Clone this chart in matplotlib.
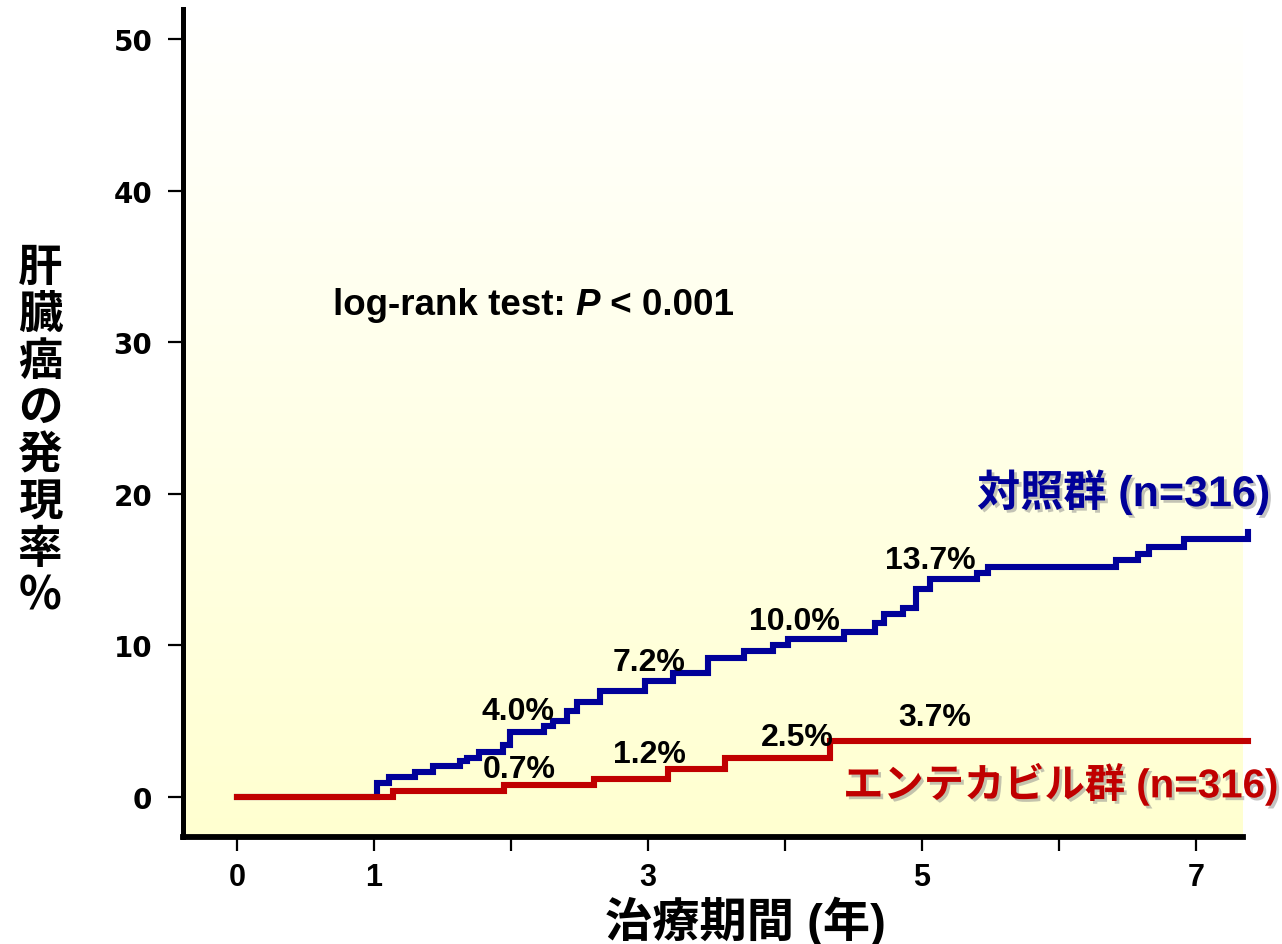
import numpy as np
import matplotlib
matplotlib.use("Agg")
import matplotlib.pyplot as plt
import matplotlib.patheffects as pe
from matplotlib import font_manager
from matplotlib.colors import LinearSegmentedColormap

# 対照群 (control) cumulative incidence, step points
ctrl_t = [0, 1.02, 1.11, 1.30, 1.43, 1.63, 1.68, 1.77, 1.94, 1.99, 2.24, 2.31,
          2.41, 2.48, 2.65, 2.98, 3.18, 3.44, 3.70, 3.91, 4.02, 4.43, 4.66,
          4.72, 4.86, 4.96, 5.06, 5.40, 5.48, 6.42, 6.58, 6.66, 6.91, 7.38]
ctrl_v = [0, 0.9, 1.3, 1.65, 2.05, 2.4, 2.6, 2.95, 3.45, 4.3, 4.7, 5.0,
          5.7, 6.3, 7.0, 7.65, 8.15, 9.2, 9.65, 10.0, 10.45, 10.9, 11.5,
          12.05, 12.5, 13.75, 14.4, 14.8, 15.15, 15.65, 16.05, 16.5, 17.05, 17.5]

# エンテカビル群 (entecavir)
etv_t = [0, 1.14, 1.95, 2.61, 3.15, 3.56, 4.33, 7.38]
etv_v = [0, 0.42, 0.81, 1.19, 1.85, 2.55, 3.71, 3.71]

# percent annotations at years 2, 3, 4, 5
ctrl_notes = ["4.0%", "7.2%", "10.0%", "13.7%"]
etv_notes = ["0.7%", "1.2%", "2.5%", "3.7%"]

xticks = [0, 1, 2, 3, 4, 5, 6, 7]
xticklabels = ["0", "1", "", "3", "", "5", "", "7"]
yticks = [0, 10, 20, 30, 40, 50]

LAT = "Liberation Sans"
CJK = "Noto Sans CJK JP"
try:
    font_manager.findfont("Liberation Sans Narrow", fallback_to_default=False)
    NARROW = "Liberation Sans Narrow"
except Exception:
    NARROW = LAT

plt.rcParams['font.family'] = [LAT, CJK, 'DejaVu Sans']

fig = plt.figure(figsize=(12.82, 9.45), dpi=100)
ax = fig.add_axes([0.1427, 0.1132, 0.8268, 0.8762])

xlim = (-0.394, 7.343)
ylim = (-2.64, 51.98)

# background gradient, white on top to pale yellow at bottom
cmap = LinearSegmentedColormap.from_list("bg", ["#FFFFFF", "#FFFFD0"])
grad = np.linspace(0, 1, 256).reshape(-1, 1)
ax.imshow(grad, cmap=cmap, aspect='auto', extent=[xlim[0], xlim[1], ylim[0], ylim[1]],
          zorder=0, origin='upper')

ax.step(ctrl_t, ctrl_v, where='post', color='#000099', lw=4.4, zorder=3,
        clip_on=False, solid_joinstyle='miter')
ax.step(etv_t, etv_v, where='post', color='#C00000', lw=4.4, zorder=4,
        clip_on=False, solid_joinstyle='miter')

ax.set_xlim(*xlim)
ax.set_ylim(*ylim)

for s in ['top', 'right']:
    ax.spines[s].set_visible(False)
ax.spines['left'].set_linewidth(3.6)
ax.spines['bottom'].set_linewidth(4.2)

ax.set_xticks(xticks)
ax.set_xticklabels(xticklabels, fontfamily=NARROW, fontweight='bold', fontsize=22)
ax.set_yticks(yticks)
ax.set_yticklabels([str(v) for v in yticks], fontfamily='DejaVu Sans',
                   fontweight='bold', fontsize=20)
ax.tick_params(axis='x', length=10, width=1.6, pad=8, direction='out')
ax.tick_params(axis='y', length=11, width=1.6, pad=11, direction='out')

# percentage labels
ctrl_pos = [(2.05, 5.67), (3.01, 8.9), (4.07, 11.6), (5.06, 15.63)]
etv_pos = [(2.06, 1.85), (3.01, 2.84), (4.09, 3.96), (5.09, 5.28)]
for (x, y), s in zip(ctrl_pos, ctrl_notes):
    ax.text(x, y, s, ha='center', va='center', fontsize=23, fontweight='bold',
            color='black', zorder=5)
for (x, y), s in zip(etv_pos, etv_notes):
    ax.text(x, y, s, ha='center', va='center', fontsize=23, fontweight='bold',
            color='black', zorder=5)

# log-rank text with italic P
fig.canvas.draw()
r = fig.canvas.get_renderer()
inv = ax.transData.inverted()
xp = 0.70
for part, style in [("log-rank test: ", 'normal'), ("P", 'italic'), (" < 0.001", 'normal')]:
    tx = ax.text(xp, 32.5, part, ha='left', va='center', fontsize=26.5, fontweight='bold',
                 fontstyle=style, zorder=5)
    bb = tx.get_window_extent(renderer=r)
    xp = inv.transform((bb.x1, 0))[0]

shadow = [pe.withSimplePatchShadow(offset=(2, -2), shadow_rgbFace='#888888', alpha=0.5)]
ax.text(7.54, 20.1, "対照群 (n=316)", ha='right', va='center', fontsize=31,
        fontweight='bold', color='#000099', zorder=5, path_effects=shadow)
ax.text(7.60, 0.86, "エンテカビル群 (n=316)", ha='right', va='center', fontsize=29,
        fontweight='bold', color='#C00000', zorder=5, path_effects=shadow)

# vertical y-axis label, one character per line
ylab = "肝臓癌の発現率%"
y0 = 1 - 268 / 945
step = 47 / 945
for i, ch in enumerate(ylab):
    fig.text(40 / 1282, y0 - i * step, ch, ha='center', va='center', fontsize=32,
             fontweight='bold', family=[CJK, 'DejaVu Sans'])

fig.text(745 / 1282, 1 - 922 / 945, "治療期間 (年)", ha='center', va='center',
         fontsize=34, fontweight='bold', family=[NARROW, CJK, 'DejaVu Sans'])

fig.savefig("out.png", dpi=100)
